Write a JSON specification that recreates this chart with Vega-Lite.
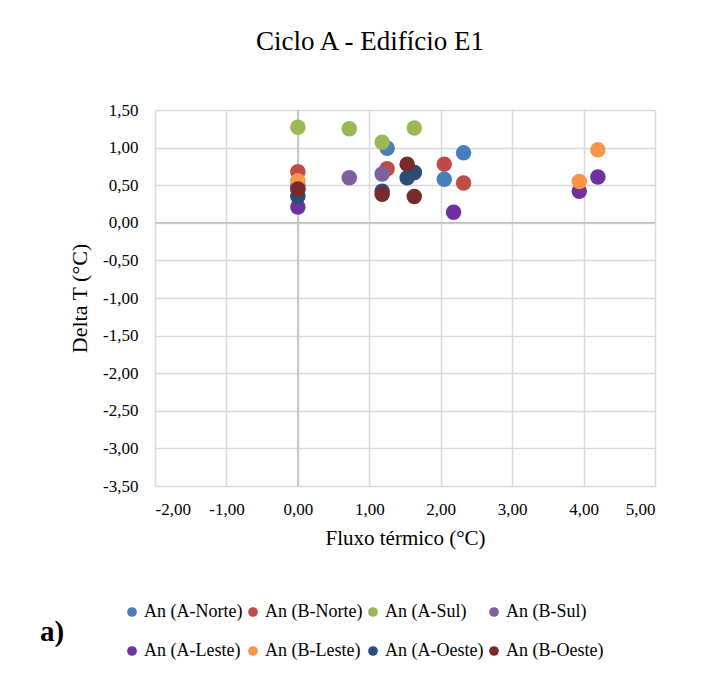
{
  "$schema": "https://vega.github.io/schema/vega-lite/v6.json",
  "width": 500,
  "height": 376,
  "padding": {"left": 40, "top": 28, "right": 20, "bottom": 10},
  "background": "white",
  "title": {"text": "Ciclo A - Edifício E1", "font": "Liberation Serif", "fontSize": 27, "fontWeight": "normal", "color": "#000000", "anchor": "middle", "frame": "group", "dx": -35, "offset": 45},
  "config": {
    "font": "Liberation Serif",
    "view": {"stroke": null},
    "axis": {"labelFont": "Liberation Serif", "titleFont": "Liberation Serif", "labelColor": "#000000", "titleColor": "#000000", "labelFontSize": 17, "titleFontWeight": "normal", "gridColor": "#d9d9d9", "gridWidth": 1.5, "domain": false, "ticks": false, "labelOverlap": false},
    "legend": {"labelFont": "Liberation Serif", "labelFontSize": 18, "labelColor": "#000000"}
  },
  "datasets": {
    "pts": [
      {"s": "An (A-Norte)", "x": 0.0, "y": 0.5},
      {"s": "An (A-Norte)", "x": 1.25, "y": 0.99},
      {"s": "An (A-Norte)", "x": 2.05, "y": 0.58},
      {"s": "An (A-Norte)", "x": 2.32, "y": 0.93},
      {"s": "An (B-Norte)", "x": 0.0, "y": 0.68},
      {"s": "An (B-Norte)", "x": 1.25, "y": 0.72},
      {"s": "An (B-Norte)", "x": 2.05, "y": 0.78},
      {"s": "An (B-Norte)", "x": 2.32, "y": 0.53},
      {"s": "An (A-Sul)", "x": 0.0, "y": 1.27},
      {"s": "An (A-Sul)", "x": 0.72, "y": 1.25},
      {"s": "An (A-Sul)", "x": 1.18, "y": 1.07},
      {"s": "An (A-Sul)", "x": 1.63, "y": 1.26},
      {"s": "An (B-Sul)", "x": 0.0, "y": 0.45},
      {"s": "An (B-Sul)", "x": 0.72, "y": 0.6},
      {"s": "An (B-Sul)", "x": 1.18, "y": 0.65},
      {"s": "An (B-Sul)", "x": 1.63, "y": 0.67},
      {"s": "An (A-Leste)", "x": 0.0, "y": 0.21},
      {"s": "An (A-Leste)", "x": 2.18, "y": 0.14},
      {"s": "An (A-Leste)", "x": 3.94, "y": 0.42},
      {"s": "An (A-Leste)", "x": 4.2, "y": 0.61},
      {"s": "An (B-Leste)", "x": 0.0, "y": 0.56},
      {"s": "An (B-Leste)", "x": 3.94, "y": 0.55},
      {"s": "An (B-Leste)", "x": 4.2, "y": 0.97},
      {"s": "An (A-Oeste)", "x": 0.0, "y": 0.35},
      {"s": "An (A-Oeste)", "x": 1.18, "y": 0.42},
      {"s": "An (A-Oeste)", "x": 1.53, "y": 0.6},
      {"s": "An (A-Oeste)", "x": 1.63, "y": 0.67},
      {"s": "An (B-Oeste)", "x": 0.0, "y": 0.45},
      {"s": "An (B-Oeste)", "x": 1.18, "y": 0.38},
      {"s": "An (B-Oeste)", "x": 1.53, "y": 0.78},
      {"s": "An (B-Oeste)", "x": 1.63, "y": 0.35}
    ],
    "zero": [{"z": 0}]
  },
  "layer": [
    {
      "data": {"name": "zero"},
      "mark": {"type": "rule", "color": "#bfbfbf", "strokeWidth": 1.5},
      "encoding": {"x": {"field": "z", "type": "quantitative", "scale": {"domain": [-2, 5]}}}
    },
    {
      "data": {"name": "zero"},
      "mark": {"type": "rule", "color": "#bfbfbf", "strokeWidth": 1.5},
      "encoding": {"y": {"field": "z", "type": "quantitative", "scale": {"domain": [-3.5, 1.5]}}}
    },
    {
      "data": {"name": "pts"},
      "mark": {"type": "point", "filled": true, "opacity": 1, "size": 240, "shape": "circle"},
      "encoding": {
        "x": {"field": "x", "type": "quantitative", "scale": {"domain": [-2, 5], "nice": false, "zero": false},
          "axis": {"title": "Fluxo térmico (°C)", "titleFontSize": 21, "tickCount": 20, "values": [-2, -1, 0, 1, 2, 3, 4, 5], "labelExpr": "replace(replace(format(datum.value, '.2f'), '.', ','), '\u2212', '-')", "labelPadding": 15, "titlePadding": 10}},
        "y": {"field": "y", "type": "quantitative", "scale": {"domain": [-3.5, 1.5], "nice": false, "zero": false},
          "axis": {"title": "Delta T (°C)", "titleFontSize": 22, "tickCount": 20, "values": [-3.5, -3, -2.5, -2, -1.5, -1, -0.5, 0, 0.5, 1, 1.5], "labelExpr": "replace(replace(format(datum.value, '.2f'), '.', ','), '\u2212', '-')", "labelPadding": 17, "titlePadding": 11}},
        "color": {"field": "s", "type": "nominal",
          "scale": {"domain": ["An (A-Norte)", "An (B-Norte)", "An (A-Sul)", "An (B-Sul)", "An (A-Leste)", "An (B-Leste)", "An (A-Oeste)", "An (B-Oeste)"],
            "range": ["#4a7ebb", "#be4b48", "#98b954", "#7d60a0", "#7030a0", "#f79646", "#2c4d75", "#772c2a"]},
          "legend": {"title": "a)", "titleOrient": "left", "titleFontSize": 29, "titleFontWeight": "bold", "titleFont": "Liberation Serif", "titleColor": "#000000", "titlePadding": 58, "titleBaseline": "middle", "titleAnchor": "middle",
            "orient": "none", "legendX": -115, "legendY": 493, "direction": "horizontal", "columns": 4, "symbolType": "circle", "symbolSize": 95, "symbolStrokeWidth": 0, "labelOffset": 3, "columnPadding": 1, "rowPadding": 21}}
      }
    }
  ]
}
